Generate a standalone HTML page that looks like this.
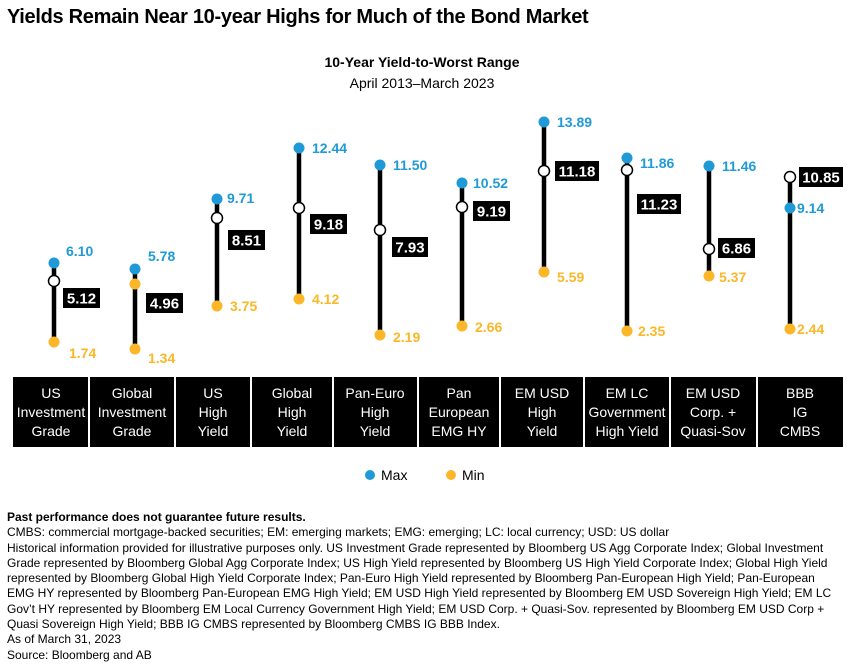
<!DOCTYPE html>
<html><head><meta charset="utf-8"><style>
body{margin:0;width:850px;height:669px;background:#fff;font-family:"Liberation Sans",sans-serif;color:#000;position:relative;overflow:hidden}
.t{position:absolute;left:7px;top:6px;font-size:20px;font-weight:bold;letter-spacing:-0.3px}
.notes{position:absolute;left:7px;top:510px;width:838px;font-size:12px;line-height:15.3px;letter-spacing:0px}
</style></head><body>
<div class="t">Yields Remain Near 10-year Highs for Much of the Bond Market</div>
<svg width="850" height="669" style="position:absolute;left:0;top:0" font-family="Liberation Sans, sans-serif">
<text x="422" y="67" font-size="14" font-weight="bold" text-anchor="middle">10-Year Yield-to-Worst Range</text>
<text x="422" y="88" font-size="14" text-anchor="middle">April 2013–March 2023</text>
<g id="c"></g>
<rect x="13" y="377" width="830" height="70" fill="#000"/>
<g stroke="#fff" stroke-width="2">
<line x1="89" y1="377" x2="89" y2="447"/><line x1="175" y1="377" x2="175" y2="447"/><line x1="251" y1="377" x2="251" y2="447"/><line x1="333" y1="377" x2="333" y2="447"/><line x1="418" y1="377" x2="418" y2="447"/><line x1="500" y1="377" x2="500" y2="447"/><line x1="584" y1="377" x2="584" y2="447"/><line x1="670" y1="377" x2="670" y2="447"/><line x1="757" y1="377" x2="757" y2="447"/>
</g>
<g fill="#fff" font-size="14" text-anchor="middle">
<text x="51" y="398">US</text><text x="51" y="417">Investment</text><text x="51" y="436">Grade</text>
<text x="132" y="398">Global</text><text x="132" y="417">Investment</text><text x="132" y="436">Grade</text>
<text x="213" y="398">US</text><text x="213" y="417">High</text><text x="213" y="436">Yield</text>
<text x="292" y="398">Global</text><text x="292" y="417">High</text><text x="292" y="436">Yield</text>
<text x="375" y="398">Pan-Euro</text><text x="375" y="417">High</text><text x="375" y="436">Yield</text>
<text x="459" y="398">Pan</text><text x="459" y="417">European</text><text x="459" y="436">EMG HY</text>
<text x="542" y="398">EM USD</text><text x="542" y="417">High</text><text x="542" y="436">Yield</text>
<text x="627" y="398">EM LC</text><text x="627" y="417">Government</text><text x="627" y="436">High Yield</text>
<text x="713" y="398">EM USD</text><text x="713" y="417">Corp. +</text><text x="713" y="436">Quasi-Sov</text>
<text x="800" y="398">BBB</text><text x="800" y="417">IG</text><text x="800" y="436">CMBS</text>
</g>
<circle cx="370" cy="475" r="5" fill="#1f9ad6"/><text x="381" y="480" font-size="14">Max</text>
<circle cx="451" cy="475" r="5" fill="#fbb727"/><text x="462" y="480" font-size="14">Min</text>
</svg>
<script>
var d=[
[54,263,281,342,63,100,298,"6.10",66,251,"1.74",69,353,"5.12",0],
[135,269,284,349,146,183,303,"5.78",148,256,"1.34",148,358,"4.96",1],
[217,199,218,306,228,265,240,"9.71",227,198,"3.75",230,306,"8.51",0],
[299,148,208,299,310,347,224,"12.44",312,148,"4.12",312,299,"9.18",0],
[380,165,230,335,392,428,247,"11.50",393,165,"2.19",393,337,"7.93",0],
[462,183,207,326,473,510,211,"10.52",473,183,"2.66",475,327,"9.19",0],
[544,122,171,272,555,599,171,"13.89",557,122,"5.59",557,277,"11.18",0],
[627,158,170,331,637,681,204,"11.86",640,163,"2.35",638,331,"11.23",0],
[709,166,249,276,718,755,248,"11.46",722,166,"5.37",719,277,"6.86",0],
[790,208,177,329,799,843,177,"9.14",797,208,"2.44",797,329,"10.85",0]];
var s="";
d.forEach(function(r){
var top=Math.min(r[1],r[2]);
s+='<line x1="'+r[0]+'" y1="'+top+'" x2="'+r[0]+'" y2="'+r[3]+'" stroke="#000" stroke-width="4.5"/>';
s+='<circle cx="'+r[0]+'" cy="'+r[1]+'" r="5.5" fill="#1f9ad6"/>';
s+='<circle cx="'+r[0]+'" cy="'+r[3]+'" r="5.5" fill="#fbb727"/>';
if(r[14])s+='<circle cx="'+r[0]+'" cy="'+r[2]+'" r="5.5" fill="#fbb727"/>';
else s+='<circle cx="'+r[0]+'" cy="'+r[2]+'" r="5.5" fill="#fff" stroke="#000" stroke-width="1.5"/>';
s+='<rect x="'+r[4]+'" y="'+(r[6]-10)+'" width="'+(r[5]-r[4])+'" height="20" fill="#000"/>';
s+='<text x="'+((r[4]+r[5])/2)+'" y="'+(r[6]+5.5)+'" fill="#fff" font-size="15" font-weight="bold" text-anchor="middle">'+r[13]+'</text>';
s+='<text x="'+r[8]+'" y="'+(r[9]+5)+'" fill="#1f9ad6" font-size="14" font-weight="bold">'+r[7]+'</text>';
s+='<text x="'+r[11]+'" y="'+(r[12]+5)+'" fill="#fbb727" font-size="14" font-weight="bold">'+r[10]+'</text>';
});
document.getElementById("c").innerHTML=s;
</script>
<div class="notes"><b>Past performance does not guarantee future results.</b><br>
CMBS: commercial mortgage-backed securities; EM: emerging markets; EMG: emerging; LC: local currency; USD: US dollar<br>
Historical information provided for illustrative purposes only. US Investment Grade represented by Bloomberg US Agg Corporate Index; Global Investment Grade represented by Bloomberg Global Agg Corporate Index; US High Yield represented by Bloomberg US High Yield Corporate Index; Global High Yield represented by Bloomberg Global High Yield Corporate Index; Pan-Euro High Yield represented by Bloomberg Pan-European High Yield; Pan-European EMG HY represented by Bloomberg Pan-European EMG High Yield; EM USD High Yield represented by Bloomberg EM USD Sovereign High Yield; EM LC Gov’t HY represented by Bloomberg EM Local Currency Government High Yield; EM USD Corp. + Quasi-Sov. represented by Bloomberg EM USD Corp + Quasi Sovereign High Yield; BBB IG CMBS represented by Bloomberg CMBS IG BBB Index.<br>
As of March 31, 2023<br>
Source: Bloomberg and AB</div>
</body></html>
